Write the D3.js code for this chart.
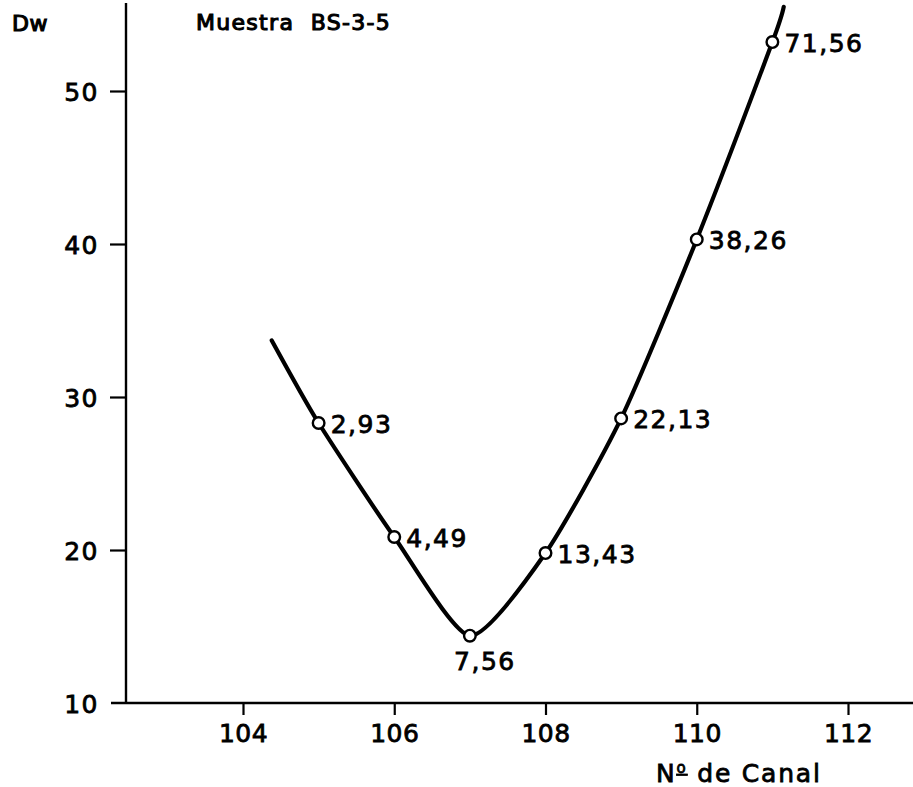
<!DOCTYPE html>
<html>
<head>
<meta charset="utf-8">
<script src="https://cdn.jsdelivr.net/npm/d3@7"></script>
<style>
  html, body { margin: 0; padding: 0; background: #fff; }
  svg text { font-family: "DejaVu Sans", sans-serif; fill: #000; stroke: #000; stroke-width: 0.8px; }
</style>
</head>
<body>
<svg id="chart" width="913" height="787"></svg>
<script>
// Channel number and Dw for each measured point, with the value written beside it
const channels = [105, 106, 107, 108, 109, 110, 111];
const dwValues = [28.3, 20.85, 14.4, 19.8, 28.6, 40.3, 53.2];
const pointLabels = ["2,93", "4,49", "7,56", "13,43", "22,13", "38,26", "71,56"];

// Where the fitted curve begins and ends beyond the measured points
const curveStart = [104.38, 33.7];
const curveEnd = [111.15, 55.5];

// Axis ticks
const xTicks = [104, 106, 108, 110, 112];
const yTicks = [10, 20, 30, 40, 50];

const title = "Muestra  BS-3-5";
const yTitle = "Dw";

const svg = d3.select("#chart");

const x = d3.scaleLinear().domain([104, 112]).range([243, 848]);
const y = d3.scaleLinear().domain([10, 50]).range([703, 91]);

const axisLeftX = 126;

// Axis lines
svg.append("line")
  .attr("x1", axisLeftX).attr("x2", axisLeftX)
  .attr("y1", 3).attr("y2", y(10))
  .attr("stroke", "#000").attr("stroke-width", 2.4);

svg.append("line")
  .attr("x1", axisLeftX - 15).attr("x2", 913)
  .attr("y1", y(10)).attr("y2", y(10))
  .attr("stroke", "#000").attr("stroke-width", 2.4);

// X axis ticks and labels
const xAxis = svg.append("g")
  .attr("transform", `translate(0,${y(10)})`)
  .call(d3.axisBottom(x).tickValues(xTicks).tickSize(12).tickSizeOuter(0).tickFormat(d3.format("d")));
xAxis.select(".domain").remove();
xAxis.selectAll(".tick line").attr("stroke", "#000").attr("stroke-width", 2.2);
xAxis.selectAll(".tick text")
  .attr("y", 21).attr("dy", "0.71em")
  .style("font-size", "25px").style("letter-spacing", "0.5px")
  .attr("fill", "#000");

// Y axis ticks and labels (the 10 tick is the extended base line)
const yAxis = svg.append("g")
  .attr("transform", `translate(${axisLeftX},0)`)
  .call(d3.axisLeft(y).tickValues(yTicks).tickSize(16).tickSizeOuter(0).tickFormat(d3.format("d")));
yAxis.select(".domain").remove();
yAxis.selectAll(".tick line")
  .attr("stroke", "#000").attr("stroke-width", 2.2)
  .attr("display", d => d === 10 ? "none" : null);
yAxis.selectAll(".tick text")
  .attr("x", -27).attr("dy", "0.36em")
  .style("font-size", "25px").style("letter-spacing", "1.5px")
  .attr("fill", "#000");

// Titles
svg.append("text")
  .attr("x", 12).attr("y", 31)
  .style("font-size", "22px").style("stroke-width", "1.2px").style("letter-spacing", "0.5px")
  .text(yTitle);

svg.append("text")
  .attr("x", 196).attr("y", 30)
  .attr("xml:space", "preserve")
  .style("font-size", "22px").style("stroke-width", "1.1px").style("letter-spacing", "1.3px")
  .style("white-space", "pre")
  .text(title);

// X axis title: "Nº de Canal" with an underlined superscript o
const xt = svg.append("text")
  .attr("x", 656).attr("y", 782)
  .style("font-size", "25px").style("letter-spacing", "1.8px");
xt.append("tspan").text("N");
xt.append("tspan").attr("dy", -9).style("font-size", "15px").style("text-decoration", "underline").text("o");
xt.append("tspan").attr("dy", 9).text(" de Canal");

// Fitted curve through the measured points
const curvePts = [curveStart]
  .concat(channels.map((c, i) => [c, dwValues[i]]))
  .concat([curveEnd]);

const line = d3.line()
  .x(d => x(d[0]))
  .y(d => y(d[1]))
  .curve(d3.curveCardinal.tension(0.35));

svg.append("path")
  .datum(curvePts)
  .attr("d", line)
  .attr("fill", "none")
  .attr("stroke", "#000")
  .attr("stroke-width", 4.2)
  .attr("stroke-linecap", "round");

// Open circle markers
svg.selectAll("circle.pt")
  .data(channels)
  .join("circle")
  .attr("class", "pt")
  .attr("cx", d => x(d))
  .attr("cy", (d, i) => y(dwValues[i]))
  .attr("r", 5.8)
  .attr("fill", "#fff")
  .attr("stroke", "#000")
  .attr("stroke-width", 2.4);

// Value labels beside each point; the minimum is labelled underneath
svg.selectAll("text.val")
  .data(channels)
  .join("text")
  .attr("class", "val")
  .attr("x", (d, i) => i === 2 ? x(d) + 15 : x(d) + 12)
  .attr("y", (d, i) => i === 2 ? y(dwValues[i]) + 34 : y(dwValues[i]) + 10)
  .attr("text-anchor", (d, i) => i === 2 ? "middle" : "start")
  .style("font-size", "25px").style("letter-spacing", "1.5px")
  .text((d, i) => pointLabels[i]);
</script>
</body>
</html>
